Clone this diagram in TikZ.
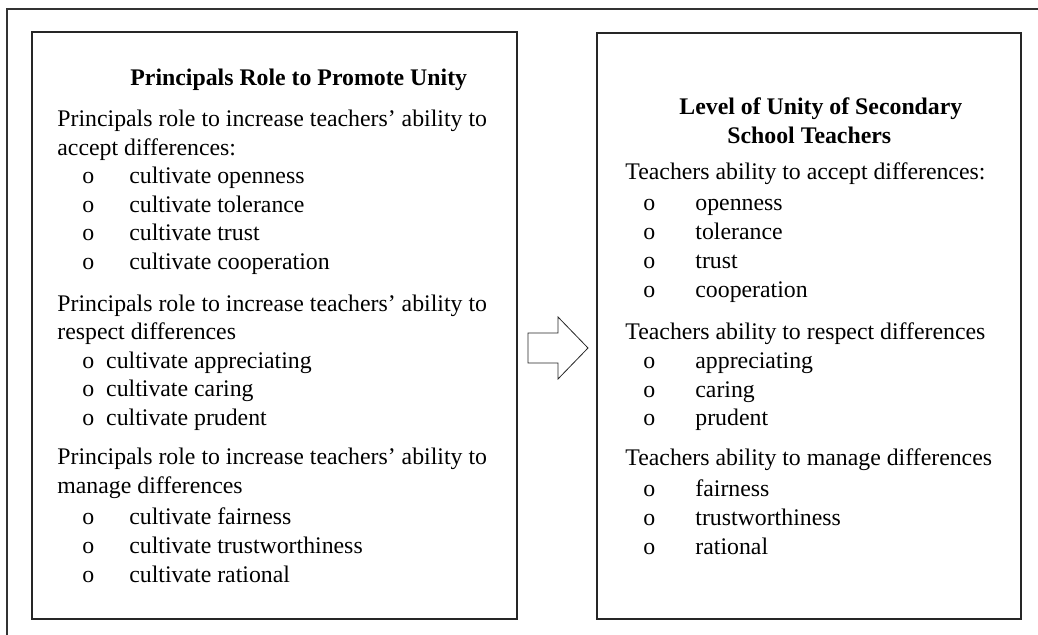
\documentclass[tikz,border=0pt]{standalone}
\usepackage{fontspec}
\setmainfont{Liberation Serif}
\begin{document}
\begin{tikzpicture}[x=0.5pt,y=-0.5pt]
% Node styles ---
\tikzstyle{box} = [rectangle, draw = black!85, line width = 0.65pt, inner sep = 0pt, outer sep = 0pt] % Frames
\tikzstyle{ttl} = [anchor = base west, inner sep = 0pt, font = \fontsize{11.9}{14}\selectfont\bfseries] % Headings
\tikzstyle{txt} = [anchor = base west, inner sep = 0pt, font = \fontsize{11.9}{14}\selectfont] % Lines of text
% Edge styles
\tikzstyle{frm} = [draw = black!80, line width = 0.6pt] % Outer frame
\tikzstyle{blk} = [draw = black!85, line width = 0.4pt, fill = white, line join = miter] % Block arrow
% Begin Figure ---
\useasboundingbox (0,0) rectangle (1038,635);
\draw [frm] (7,635) -- (7,9) -- (1038,9);
% Boxes
\node at (274.5,325.5) [box, minimum width = 242.5pt, minimum height = 293.5pt] (role) {};
\node at (809,326) [box, minimum width = 212pt, minimum height = 293pt] (unity) {};
% Left box text
\node at (130,86) [ttl] (roleT) {Principals Role to Promote Unity};
\node at (57,127) [txt] (acc1) {Principals role to increase teachers’ ability to};
\node at (57,155.5) [txt] (acc2) {accept differences:};
\node at (82,184) [txt] (accO1) {o};
\node at (129,184) [txt] (accI1) {cultivate openness};
\node at (82,212.5) [txt] (accO2) {o};
\node at (129,212.5) [txt] (accI2) {cultivate tolerance};
\node at (82,241) [txt] (accO3) {o};
\node at (129,241) [txt] (accI3) {cultivate trust};
\node at (82,269.5) [txt] (accO4) {o};
\node at (129,269.5) [txt] (accI4) {cultivate cooperation};
\node at (57,312) [txt] (res1) {Principals role to increase teachers’ ability to};
\node at (57,340) [txt] (res2) {respect differences};
\node at (82,368.5) [txt] (resI1) {o\hspace{0.5em}cultivate appreciating};
\node at (82,397) [txt] (resI2) {o\hspace{0.5em}cultivate caring};
\node at (82,425.5) [txt] (resI3) {o\hspace{0.5em}cultivate prudent};
\node at (57,465) [txt] (man1) {Principals role to increase teachers’ ability to};
\node at (57,494) [txt] (man2) {manage differences};
\node at (82,524) [txt] (manO1) {o};
\node at (129,524) [txt] (manI1) {cultivate fairness};
\node at (82,553) [txt] (manO2) {o};
\node at (129,553) [txt] (manI2) {cultivate trustworthiness};
\node at (82,582) [txt] (manO3) {o};
\node at (129,582) [txt] (manI3) {cultivate rational};
% Right box text
\node at (679,115) [ttl] (unityT1) {Level of Unity of Secondary};
\node at (727,144) [ttl] (unityT2) {School Teachers};
\node at (625,180) [txt] (tacc) {Teachers ability to accept differences:};
\node at (643,211) [txt] (taccO1) {o};
\node at (695,211) [txt] (taccI1) {openness};
\node at (643,240) [txt] (taccO2) {o};
\node at (695,240) [txt] (taccI2) {tolerance};
\node at (643,269) [txt] (taccO3) {o};
\node at (695,269) [txt] (taccI3) {trust};
\node at (643,298) [txt] (taccO4) {o};
\node at (695,298) [txt] (taccI4) {cooperation};
\node at (625,340) [txt] (tres) {Teachers ability to respect differences};
\node at (643,369) [txt] (tresO1) {o};
\node at (695,369) [txt] (tresI1) {appreciating};
\node at (643,398) [txt] (tresO2) {o};
\node at (695,398) [txt] (tresI2) {caring};
\node at (643,426) [txt] (tresO3) {o};
\node at (695,426) [txt] (tresI3) {prudent};
\node at (625,466) [txt] (tman) {Teachers ability to manage differences};
\node at (643,496) [txt] (tmanO1) {o};
\node at (695,496) [txt] (tmanI1) {fairness};
\node at (643,525) [txt] (tmanO2) {o};
\node at (695,525) [txt] (tmanI2) {trustworthiness};
\node at (643,554) [txt] (tmanO3) {o};
\node at (695,554) [txt] (tmanI3) {rational};
% Block arrow
\path [blk] (528,333) -- (558,333) -- (558,317) -- (588,348) -- (558,379) -- (558,363) -- (528,363) -- cycle;
\end{tikzpicture}
\end{document}
